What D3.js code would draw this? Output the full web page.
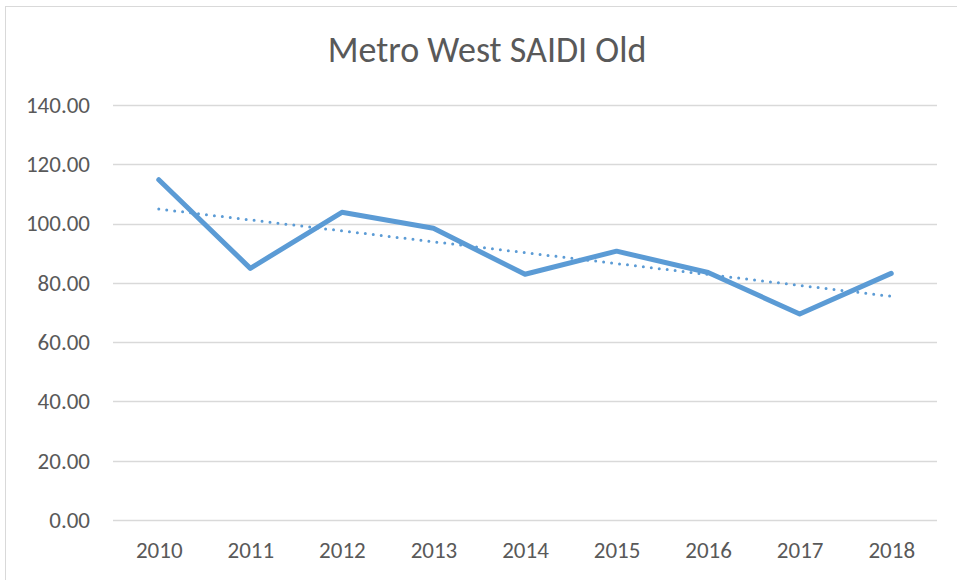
<!DOCTYPE html>
<html>
<head>
<meta charset="utf-8">
<script src="https://cdn.jsdelivr.net/npm/d3@7"></script>
<style>
  body { margin: 0; background: #fff; }
  svg { font-family: Calibri, Carlito, Lato, "Open Sans", sans-serif; }
</style>
</head>
<body>
<div id="chart"></div>
<script>
const years = ['2010', '2011', '2012', '2013', '2014', '2015', '2016', '2017', '2018']
const saidi = [114.8, 84.9, 103.8, 98.4, 82.9, 90.7, 83.5, 69.5, 83.2]
const yTicks = [0, 20, 40, 60, 80, 100, 120, 140]

const width = 957, height = 580
const margin = { top: 105, right: 20, bottom: 60, left: 113 }
const font = 'Calibri, Carlito, Lato, "Open Sans", sans-serif'

const svg = d3.select('#chart').append('svg')
    .attr('width', width)
    .attr('height', height)

// chart frame
svg.append('rect')
    .attr('x', 5.5).attr('y', 6.5)
    .attr('width', width + 10).attr('height', height + 10)
    .attr('fill', 'none')
    .attr('stroke', '#d9d9d9')

svg.append('text')
    .attr('x', 487).attr('y', 62)
    .attr('text-anchor', 'middle')
    .attr('fill', '#595959')
    .style('font-size', '36px')
    .text('Metro West SAIDI Old')

const x = d3.scalePoint()
    .domain(years)
    .range([margin.left, width - margin.right])
    .padding(0.5)

const y = d3.scaleLinear()
    .domain([0, 140])
    .range([520, margin.top])

const grid = svg.append('g')
grid.selectAll('line')
    .data(yTicks)
    .enter()
    .append('line')
    .attr('x1', margin.left).attr('x2', width - margin.right)
    .attr('y1', d => Math.round(y(d)) + 0.5)
    .attr('y2', d => Math.round(y(d)) + 0.5)
    .attr('stroke', '#d9d9d9')
    .attr('stroke-width', 1.3)

const yAxis = svg.append('g')
    .attr('transform', `translate(${margin.left - 20},0)`)
    .call(d3.axisLeft(y).tickValues(yTicks).tickFormat(d3.format('.2f')).tickSize(0))
    .attr('font-family', font)
yAxis.select('.domain').remove()
yAxis.selectAll('text')
    .attr('fill', '#595959')
    .style('font-size', '23px')

const xAxis = svg.append('g')
    .attr('transform', 'translate(0,539)')
    .call(d3.axisBottom(x).tickSize(0))
    .attr('font-family', font)
xAxis.select('.domain').remove()
xAxis.selectAll('text')
    .attr('fill', '#595959')
    .style('font-size', '23px')

const line = d3.line()
    .x((d, i) => x(years[i]))
    .y(d => y(d))

svg.append('path')
    .datum(saidi)
    .attr('d', line)
    .attr('fill', 'none')
    .attr('stroke', '#5b9bd5')
    .attr('stroke-width', 5)
    .attr('stroke-linejoin', 'round')
    .attr('stroke-linecap', 'round')

// linear trendline (least squares over the series)
const n = saidi.length
const mx = d3.mean(d3.range(n))
const my = d3.mean(saidi)
const slope = d3.sum(saidi, (v, i) => (i - mx) * (v - my)) / d3.sum(d3.range(n), i => (i - mx) ** 2)
const trend = [0, n - 1].map(i => ({ i, v: my + slope * (i - mx) }))

svg.append('path')
    .datum(trend)
    .attr('d', d3.line().x(d => x(years[d.i])).y(d => y(d.v)))
    .attr('fill', 'none')
    .attr('stroke', '#5b9bd5')
    .attr('stroke-width', 3)
    .attr('stroke-linecap', 'round')
    .attr('stroke-dasharray', '0,8')
</script>
</body>
</html>
